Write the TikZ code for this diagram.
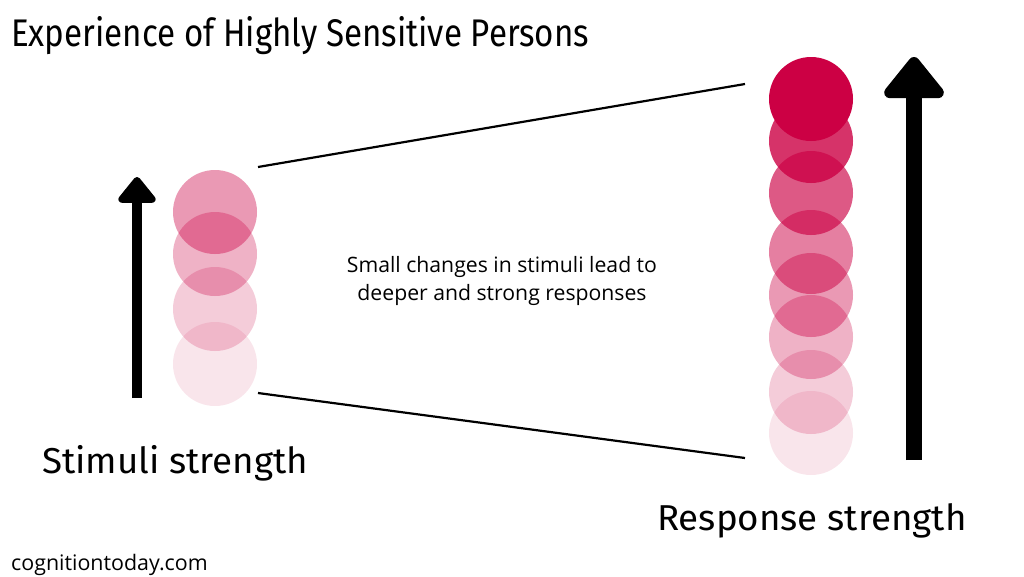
\documentclass[tikz,border=0pt]{standalone}
\usepackage{fontspec}
\setmainfont{Fira Sans}
\newfontfamily\titlefont[FakeStretch=0.86]{Fira Sans}
\newfontfamily\labelfont[FakeStretch=1.02]{Fira Sans}
\newfontfamily\bodyfont{Open Sans}
\usetikzlibrary{arrows.meta}
\definecolor{crim}{HTML}{CC0044}
\tikzset{
  dot/.style={circle, fill=crim, minimum size=84pt, inner sep=0pt},
  conn/.style={line width=2.2pt, black},
  bigarrow/.style={line width=#1, black, -{Triangle[round, length=2.8*#1, width=4.3*#1]}},
  lbl/.style={anchor=base west, inner sep=0pt},
}
\begin{document}
\begin{tikzpicture}[x=1pt,y=-1pt]
\useasboundingbox (0,0) rectangle (1024,576);
\fill[white] (0,0) rectangle (1024,576);
% left circles
\node[dot, fill opacity=0.1] (l4) at (215,364) {};
\node[dot, fill opacity=0.2] (l3) at (215,309) {};
\node[dot, fill opacity=0.3] (l2) at (215,254) {};
\node[dot, fill opacity=0.4] (l1) at (215,212) {};
% right circles
\node[dot, fill opacity=0.1] (r8) at (811,433) {};
\node[dot, fill opacity=0.2] (r7) at (811,392) {};
\node[dot, fill opacity=0.3] (r6) at (811,337) {};
\node[dot, fill opacity=0.4] (r5) at (811,295) {};
\node[dot, fill opacity=0.5] (r4) at (811,252) {};
\node[dot, fill opacity=0.65] (r3) at (811,193) {};
\node[dot, fill opacity=0.8] (r2) at (811,141) {};
\node[dot, fill opacity=1] (r1) at (811,99) {};
% connectors
\coordinate (la) at (258,167);
\coordinate (ra) at (745,84);
\coordinate (lb) at (258,393);
\coordinate (rb) at (745,458);
\draw[conn] (la) -- (ra);
\draw[conn] (lb) -- (rb);
% arrows
\coordinate (a1s) at (137,398);
\coordinate (a1e) at (137,177);
\draw[bigarrow=10pt] (a1s) -- (a1e);
\coordinate (a2s) at (914,460);
\coordinate (a2e) at (914,57);
\draw[bigarrow=16pt] (a2s) -- (a2e);
% texts
\node[lbl, font=\titlefont\fontsize{38.5}{42}\selectfont] (title) at (11,46) {Experience of Highly Sensitive Persons};
\node[lbl, font=\labelfont\fontsize{36}{42}\selectfont] (stim) at (42,473) {Stimuli strength};
\node[lbl, font=\labelfont\fontsize{36}{42}\selectfont] (resp) at (657,530) {Response strength};
\node[font=\bodyfont\fontsize{21.2}{28}\selectfont, align=center] (mid) at (502,281) {Small changes in stimuli lead to\\deeper and strong responses};
\node[lbl, font=\bodyfont\fontsize{21.4}{24}\selectfont] (site) at (11,570) {cognitiontoday.com};
\end{tikzpicture}
\end{document}
